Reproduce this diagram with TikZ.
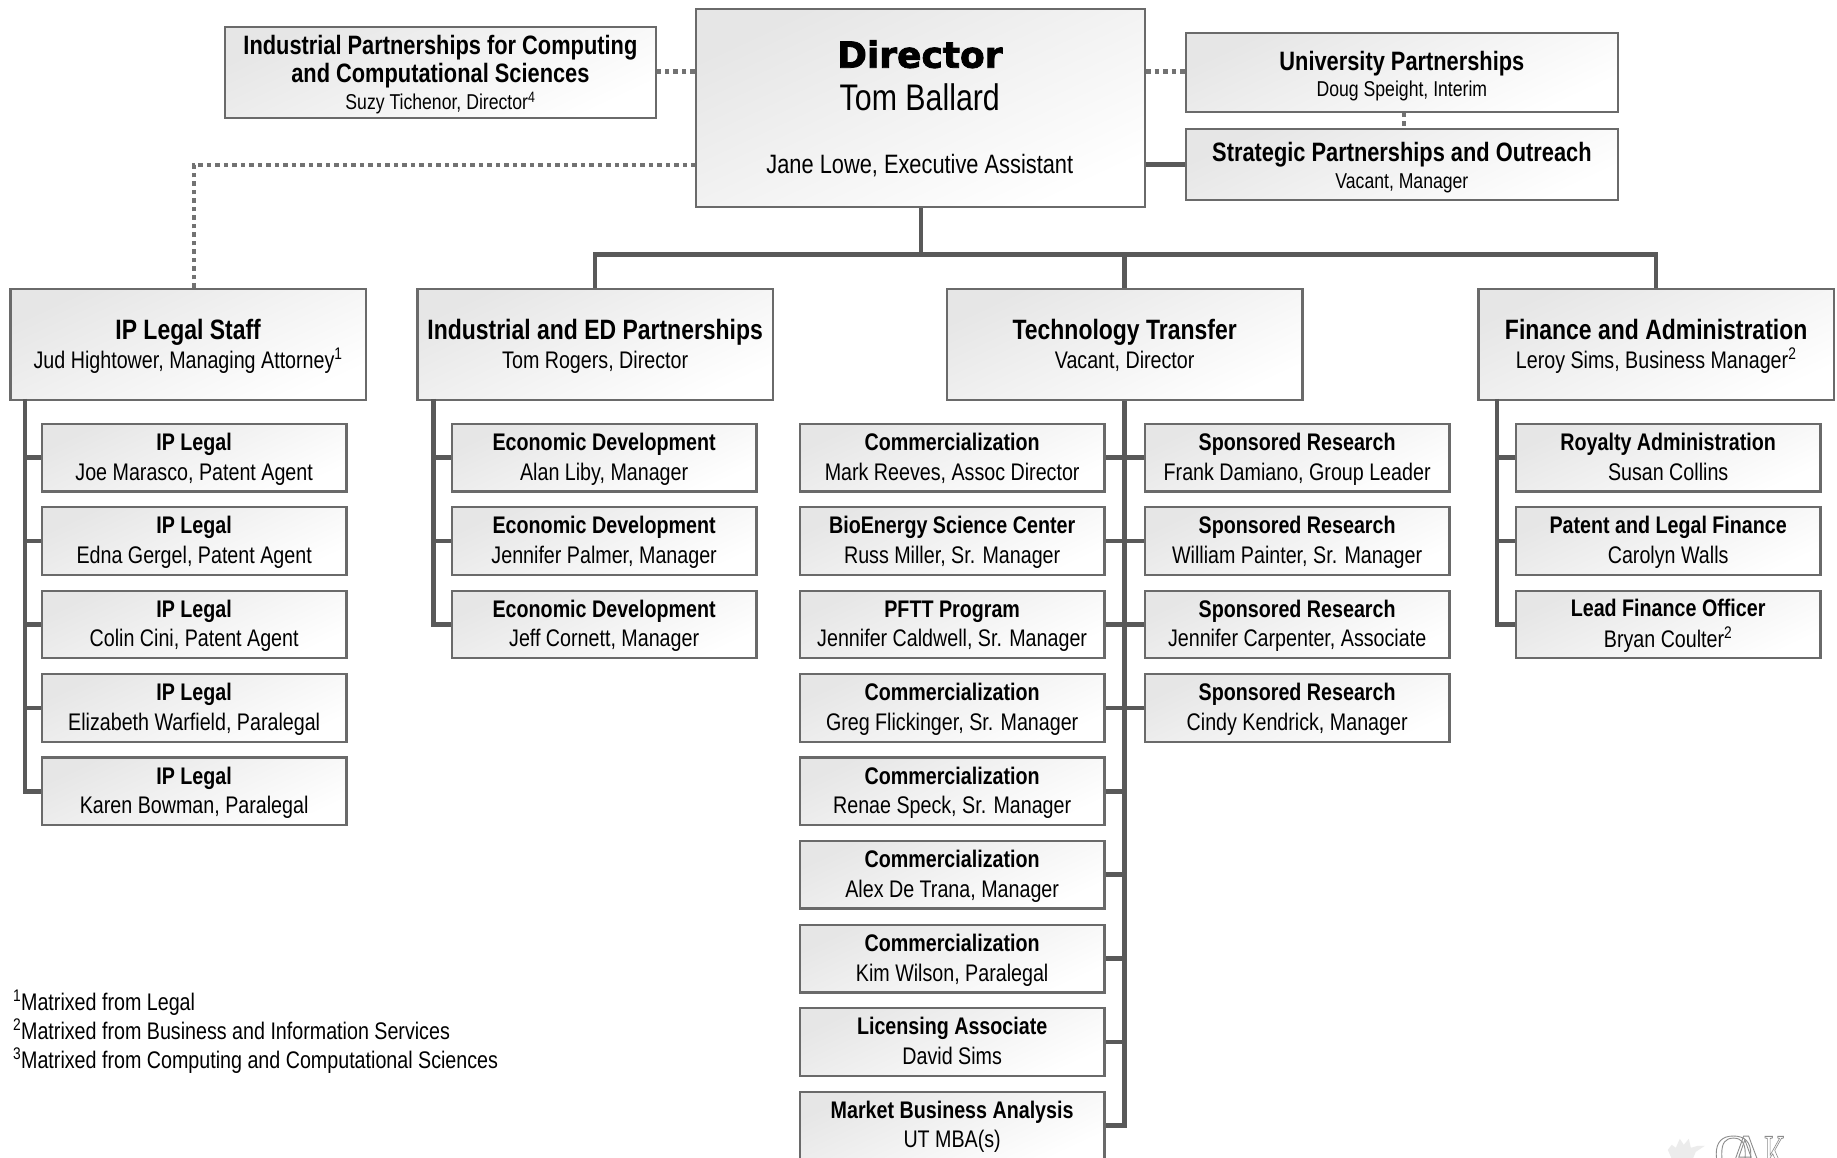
\documentclass[tikz,border=0pt]{standalone}
\usepackage{fontspec}
\setmainfont[FakeStretch=0.82]{Liberation Sans}
\newfontfamily\dirfont[BoldFeatures={FakeBold=2.2}]{DejaVu Sans}
\newfontfamily\logofont{Liberation Serif}
\definecolor{lineg}{HTML}{595959}
\definecolor{boxg}{HTML}{6A6A6A}
\definecolor{shadeg}{HTML}{E6E6E6}
\tikzset{
  x=1pt,y=-1pt,
  orgbox/.style={draw=boxg,line width=2.2pt,anchor=north west,inner sep=0pt,align=center,
     top color=shadeg,bottom color=white,shading angle=25},
  smallbox/.style={orgbox,minimum width=304.5pt,minimum height=67.5pt,font=\fontsize{24}{29}\selectfont},
  bigbox/.style={orgbox,minimum width=355.5pt,minimum height=111pt,font=\fontsize{24}{31}\selectfont},
  solidl/.style={draw=lineg,line width=4.6pt},
  dotl/.style={draw=lineg!85,line width=4.4pt,dash pattern=on 4.5pt off 4pt},
}
\newcommand{\titlefont}{\fontsize{26.6}{29}\bfseries\selectfont}
\newcommand{\subfont}{\fontsize{21.5}{27}\selectfont}
\newcommand{\smallb}[5]{\node[smallbox] (#1) at (#2,#3) {\rule{0pt}{24pt}\strut\bfseries #4\\[0.6pt]\strut #5};}
\newcommand{\bigb}[5]{\node[bigbox] (#1) at (#2,#3) {\rule{0pt}{28.3pt}\strut{\fontsize{28}{31}\bfseries\selectfont #4}\\[-1.5pt]\strut #5};}
\begin{document}
\begin{tikzpicture}
\fill[white] (0,0) rectangle (1837,1158);
\useasboundingbox (0,0) rectangle (1837,1158);
\clip (0,0) rectangle (1837,1158);
\begin{scope}[shift={(-1.2,-1.2)}]
% top
\node[orgbox,minimum width=449pt,minimum height=198pt] (dir) at (696,9.5) {};
\node[anchor=center,inner sep=0pt] (dirt) at (921,55.5) {\dirfont\fontsize{36}{36}\bfseries\selectfont Director};
\node[anchor=center,inner sep=0pt] (dirn) at (921,98) {\fontsize{37}{37}\selectfont Tom Ballard};
\node[anchor=center,inner sep=0pt] (dira) at (921,167) {\fontsize{26.6}{30}\selectfont Jane Lowe, Executive Assistant};
\node[orgbox,minimum width=431pt,minimum height=91pt] (icc) at (225,27)
  {\titlefont\rule{0pt}{24pt}Industrial Partnerships for Computing\\[2.3pt]\titlefont and Computational Sciences\\\subfont\rule{0pt}{20.5pt}Suzy Tichenor, Director\textsuperscript{4}};
\node[orgbox,minimum width=432pt,minimum height=79pt] (univ) at (1186,33)
  {\titlefont\rule{0pt}{26.2pt}University Partnerships\\[3.5pt]\subfont Doug Speight, Interim};
\node[orgbox,minimum width=432pt,minimum height=71pt] (strat) at (1186,129)
  {\titlefont\rule{0pt}{25.4pt}Strategic Partnerships and Outreach\\[6pt]\subfont Vacant, Manager};
% second level
\bigb{ipstaff}{10.5}{289}{IP Legal Staff}{Jud Hightower, Managing Attorney\textsuperscript{1}}
\bigb{inded}{417.5}{289}{Industrial and ED Partnerships}{Tom Rogers, Director}
\bigb{tt}{947}{289}{Technology Transfer}{Vacant, Director}
\bigb{fin}{1478.5}{289}{Finance and Administration}{Leroy Sims, Business Manager\textsuperscript{2}}
% IP
\smallb{ipa}{42}{424}{IP Legal}{Joe Marasco, Patent Agent}
\smallb{ipb}{42}{507.4}{IP Legal}{Edna Gergel, Patent Agent}
\smallb{ipc}{42}{590.8}{IP Legal}{Colin Cini, Patent Agent}
\smallb{ipd}{42}{674.2}{IP Legal}{Elizabeth Warfield, Paralegal}
\smallb{ipe}{42}{757.6}{IP Legal}{Karen Bowman, Paralegal}
% Econ
\smallb{eca}{452}{424}{Economic Development}{Alan Liby, Manager}
\smallb{ecb}{452}{507.4}{Economic Development}{Jennifer Palmer, Manager}
\smallb{ecc}{452}{590.8}{Economic Development}{Jeff Cornett, Manager}
% TT left
\smallb{ta}{800}{424}{Commercialization}{Mark Reeves, Assoc Director}
\smallb{tb}{800}{507.4}{BioEnergy Science Center}{Russ Miller, Sr. Manager}
\smallb{tc}{800}{590.8}{PFTT Program}{Jennifer Caldwell, Sr. Manager}
\smallb{td}{800}{674.2}{Commercialization}{Greg Flickinger, Sr. Manager}
\smallb{te}{800}{757.6}{Commercialization}{Renae Speck, Sr. Manager}
\smallb{tf}{800}{841}{Commercialization}{Alex De Trana, Manager}
\smallb{tg}{800}{925}{Commercialization}{Kim Wilson, Paralegal}
\smallb{th}{800}{1008.2}{Licensing Associate}{David Sims}
\smallb{ti}{800}{1091.8}{Market Business Analysis}{UT MBA(s)}
% TT right
\smallb{sa}{1145}{424}{Sponsored Research}{Frank Damiano, Group Leader}
\smallb{sb}{1145}{507.4}{Sponsored Research}{William Painter, Sr. Manager}
\smallb{sc}{1145}{590.8}{Sponsored Research}{Jennifer Carpenter, Associate}
\smallb{sd}{1145}{674.2}{Sponsored Research}{Cindy Kendrick, Manager}
% Finance
\smallb{fa}{1516}{424}{Royalty Administration}{Susan Collins}
\smallb{fb}{1516}{507.4}{Patent and Legal Finance}{Carolyn Walls}
\smallb{fc}{1516}{590.8}{Lead Finance Officer}{Bryan Coulter\textsuperscript{2}}
% footnotes
\node[anchor=north west,inner sep=0pt,align=left,font=\fontsize{24}{29}\selectfont] (notes) at (14,991)
 {\textsuperscript{1}Matrixed from Legal\\\textsuperscript{2}Matrixed from Business and Information Services\\\textsuperscript{3}Matrixed from Computing and Computational Sciences};
% connectors
\coordinate (bus) at (922,256);
\coordinate (iptr) at (26,400);
\coordinate (ectr) at (434.5,400);
\coordinate (fitr) at (1498,400);
\coordinate (ipcorner) at (195,166);
\draw[solidl] (dir.south -| bus) -- (bus);
\draw[solidl] (inded.north) |- (bus) -| (fin.north);
\draw[solidl] (tt.north) -- (tt.north |- bus);
\draw[solidl] (dir.east |- strat.west) -- (strat.west);
\draw[dotl] (dir.west |- icc.east) ++(0,-1) -- ++(-38,0);
\draw[dotl] (dir.east |- icc.east) ++(0,-1) -- ++(41,0);
\draw[dotl] (ipstaff.north -| ipcorner) -- (ipcorner) -- (dir.west |- ipcorner);
\draw[dotl] (univ.south -| 1405,0) -- (strat.north -| 1405,0);
% trunks
\draw[solidl] (iptr) |- (ipe.west);
\foreach \n in {ipa,ipb,ipc,ipd} \draw[solidl] (iptr |- \n.west) -- (\n.west);
\draw[solidl] (ectr) |- (ecc.west);
\foreach \n in {eca,ecb} \draw[solidl] (ectr |- \n.west) -- (\n.west);
\draw[solidl] (fitr) |- (fc.west);
\foreach \n in {fa,fb} \draw[solidl] (fitr |- \n.west) -- (\n.west);
\draw[solidl] (tt.south) |- (ti.east);
\foreach \n in {ta,tb,tc,td,te,tf,tg,th} \draw[solidl] (tt.south |- \n.east) -- (\n.east);
\foreach \n in {sa,sb,sc,sd} \draw[solidl] (tt.south |- \n.west) -- (\n.west);
% logo
\fill[gray!15] (1669,1151) -- (1673,1146) -- (1677,1149) -- (1681,1140) -- (1685,1146) -- (1690,1140) -- (1692,1149) -- (1699,1147) -- (1706,1147) -- (1697,1153) -- (1694,1160) -- (1673,1160) -- cycle;
\node[anchor=north west,inner sep=0pt] (logo) at (1715,1137) {\special{pdf:code q 1 Tr 0.9 w 0.55 G}\logofont\fontsize{54}{54}\selectfont O\kern-26pt A\kern-2pt\scalebox{.55}[1]{K}\special{pdf:code Q}};
\end{scope}
\end{tikzpicture}
\end{document}
